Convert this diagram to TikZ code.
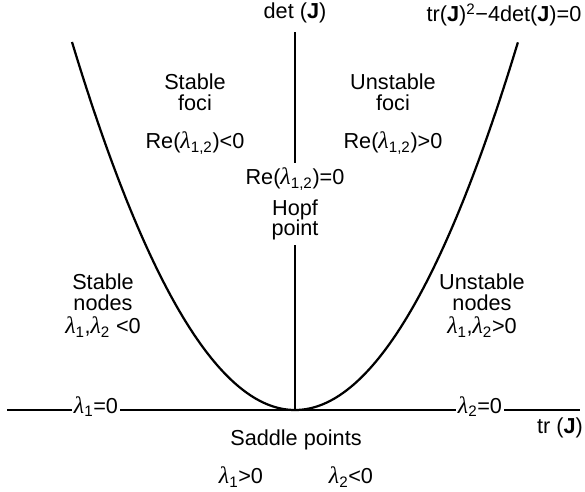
\documentclass[tikz,border=0pt]{standalone}
\usepackage{fontspec}
\setmainfont{Liberation Sans}
\newfontfamily\lamfont{Liberation Serif}[Scale=1.1]
\newcommand{\lam}[1]{{\lamfont\itshape λ}\textsubscript{#1}}
\newcommand{\J}{\textbf{J}}
\usetikzlibrary{positioning}

\begin{document}
\begin{tikzpicture}[
		x=0.03cm, y=-0.03cm,
		every node/.style={font=\fontsize{18.5}{17.5}\selectfont},
		lbl/.style={
			align=center,
			inner sep=1.5pt
		},
		axis/.style={
			line width=1.6pt
		},
		curve/.style={
			line width=1.9pt
		}
		]
		\useasboundingbox (0,0) rectangle (585,491);
		
		\coordinate (o) at (295,410);
		\coordinate (w) at (7,410);
		\coordinate (e) at (580,410);
		\coordinate (top) at (295,32);
		
		\node[lbl] (det) at (295,13) {det (\J)};
		
		\node[lbl] (disc) at (507,15) {
			tr(\J)\textsuperscript{2}−4det(\J)=0
		};
		
		\node[lbl] (sfoci) at (195,92) {
			Stable\\
			foci
		};
		
		\node[lbl] (sre) at (195,143) {Re(\lam{1,2})<0};
		
		\node[lbl] (ufoci) at (393,92) {
			Unstable\\
			foci
		};
		
		\node[lbl] (ure) at (393,143) {Re(\lam{1,2})>0};
		
		\node[lbl, inner sep=4pt] (hopf) at (295,204) {
			Re(\lam{1,2})=0\\[7pt]
			Hopf\\
			point
		};
		
		\node[lbl] (snodes) at (103,292) {
			Stable\\
			nodes
		};
		
		\node[lbl] (slam) at (103,327) {\lam{1},\lam{2} <0};
		
		\node[lbl] (unodes) at (482,292) {
			Unstable\\
			nodes
		};
		
		\node[lbl] (ulam) at (482,327) {\lam{1},\lam{2}>0};
		
		\node[lbl, anchor=mid] (lamA) at (96,410) {\lam{1}=0};
		
		\node[lbl, anchor=mid] (lamB) at (480,410) {\lam{2}=0};
		
		\node[lbl] (tr) at (560,428) {tr (\J)};
		
		\node[lbl] (saddle) at (296,440) {Saddle points};
		
		\node[lbl] (sa) at (241,477) {\lam{1}>0};
		
		\node[lbl] (sb) at (351,477) {\lam{2}<0};
		
		\draw[axis] (w) -- (lamA.mid west);
		\draw[axis] (lamA.mid east) -- (lamB.mid west);
		\draw[axis] (lamB.mid east) -- (e);
		
		\draw[axis] (top) -- (hopf);
		\draw[axis] (hopf) -- (o);
		
		\draw[curve] plot[variable=\t, domain=-1:1, samples=81, smooth]
		({295+223*\t},{410-368*\t*\t});
		
	\end{tikzpicture}
\end{document}
